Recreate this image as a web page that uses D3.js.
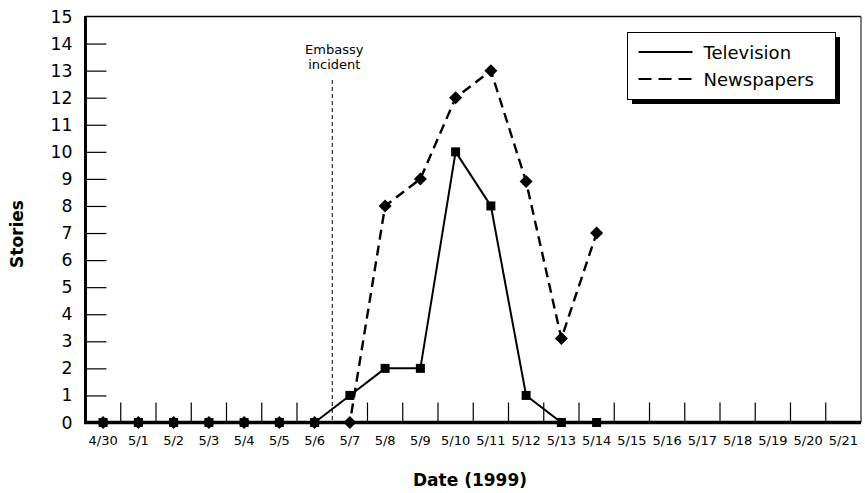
<!DOCTYPE html>
<html>
<head>
<meta charset="utf-8">
<script src="https://cdn.jsdelivr.net/npm/d3@7"></script>
<style>
  html, body { margin: 0; padding: 0; background: #fff; }
  svg { display: block; font-family: "DejaVu Sans", "Open Sans", sans-serif; }
</style>
</head>
<body>
<svg id="chart" width="865" height="493"></svg>
<script>
// ---- data ----
const categories = ["4/30","5/1","5/2","5/3","5/4","5/5","5/6","5/7","5/8","5/9","5/10",
                    "5/11","5/12","5/13","5/14","5/15","5/16","5/17","5/18","5/19","5/20","5/21"];
const televisionDates = ["4/30","5/1","5/2","5/3","5/4","5/5","5/6","5/7","5/8","5/9","5/10","5/11","5/12","5/13","5/14"];
const televisionValues = [0,0,0,0,0,0,0,1,2,2,10,8,1,0,0];
const newspaperDates = ["4/30","5/1","5/2","5/3","5/4","5/5","5/6","5/7","5/8","5/9","5/10","5/11","5/12","5/13","5/14"];
const newspaperValues = [0,0,0,0,0,0,0,0,8,9,12,13,8.9,3.1,7];
const yTickValues = [0,1,2,3,4,5,6,7,8,9,10,11,12,13,14,15];
const eventDate = "5/7";
const eventLabel = ["Embassy", "incident"];
const seriesNames = ["Television", "Newspapers"];

// ---- layout ----
const svg = d3.select("#chart");
const pL = 85.5, pR = 861, pT = 16.5, pB = 422.5;

const x = d3.scaleBand().domain(categories).range([pL, pR]).paddingInner(0).paddingOuter(0);
const xc = d => x(d) + x.bandwidth() / 2;
const y = d3.scaleLinear().domain([0, 15]).range([pB, pT]);

// frame: top and right
svg.append("line").attr("x1", pL).attr("x2", pR).attr("y1", pT).attr("y2", pT)
  .attr("stroke", "#000").attr("stroke-width", 1.3);
svg.append("line").attr("x1", pR).attr("x2", pR).attr("y1", pT).attr("y2", pB)
  .attr("stroke", "#555").attr("stroke-width", 1.5);

// y axis
const yAxis = d3.axisLeft(y).tickValues(yTickValues).tickFormat(d3.format("d"))
  .tickSizeInner(-21).tickSizeOuter(0).tickPadding(13);
const gy = svg.append("g").attr("transform", `translate(${pL},0)`).call(yAxis);
gy.attr("font-family", null);
gy.select(".domain").remove();
gy.selectAll(".tick line").attr("stroke", "#000").attr("stroke-width", 1.2)
  .filter(d => d === 0 || d === 15).remove();
gy.selectAll(".tick text").attr("font-size", 17.3).attr("fill", "#000");

// x axis labels
const xAxis = d3.axisBottom(x).tickSizeInner(0).tickSizeOuter(0).tickPadding(13.5);
const gx = svg.append("g").attr("transform", `translate(0,${pB})`).call(xAxis);
gx.attr("font-family", null);
gx.select(".domain").remove();
gx.selectAll(".tick line").remove();
gx.selectAll(".tick text").attr("font-size", 13).attr("fill", "#000");

// x boundary ticks (between categories)
svg.append("g").selectAll("line")
  .data(categories.slice(1).filter(d => d !== eventDate))
  .join("line")
  .attr("x1", d => x(d)).attr("x2", d => x(d))
  .attr("y1", pB).attr("y2", pB - 20)
  .attr("stroke", "#000").attr("stroke-width", 1.2);

// event line
const ex = x(eventDate);
svg.append("line").attr("x1", ex).attr("x2", ex).attr("y1", 80).attr("y2", pB)
  .attr("stroke", "#000").attr("stroke-width", 1).attr("stroke-dasharray", "4,3");
svg.append("text").attr("x", ex + 2).attr("y", 54).attr("text-anchor", "middle")
  .attr("font-size", 13).selectAll("tspan").data(eventLabel).join("tspan")
  .attr("x", ex + 2).attr("dy", (d, i) => i === 0 ? 0 : 15).text(d => d);

// main axis lines (thick)
svg.append("line").attr("x1", pL).attr("x2", pL).attr("y1", pT - 0.5).attr("y2", pB + 1.5)
  .attr("stroke", "#000").attr("stroke-width", 3);
svg.append("line").attr("x1", pL - 1.5).attr("x2", pR).attr("y1", pB).attr("y2", pB)
  .attr("stroke", "#000").attr("stroke-width", 3.5);

// series
const tv = televisionDates.map((d, i) => ({ date: d, value: televisionValues[i] }));
const np = newspaperDates.map((d, i) => ({ date: d, value: newspaperValues[i] }));
const line = d3.line().x(d => xc(d.date)).y(d => y(d.value));

svg.append("path").datum(np).attr("d", line).attr("fill", "none")
  .attr("stroke", "#000").attr("stroke-width", 2.4).attr("stroke-dasharray", "10,6");
svg.append("path").datum(tv).attr("d", line).attr("fill", "none")
  .attr("stroke", "#000").attr("stroke-width", 2);

const diamond = (cx, cy, r) => `M${cx},${cy - r}L${cx + r},${cy}L${cx},${cy + r}L${cx - r},${cy}Z`;
svg.append("g").selectAll("path").data(np).join("path")
  .attr("d", d => diamond(xc(d.date), y(d.value), 6.5)).attr("fill", "#000");
svg.append("g").selectAll("rect").data(tv).join("rect")
  .attr("x", d => xc(d.date) - 4.5).attr("y", d => y(d.value) - 4.5)
  .attr("width", 9).attr("height", 9).attr("fill", "#000");

// axis titles
svg.append("text").attr("x", 470).attr("y", 486).attr("text-anchor", "middle")
  .attr("font-size", 17).attr("font-weight", "bold").text("Date (1999)");
svg.append("text").attr("transform", "translate(23,234) rotate(-90)").attr("text-anchor", "middle")
  .attr("font-size", 17).attr("font-weight", "bold").text("Stories");

// legend
const lg = svg.append("g");
const lx = 627.5, ly = 32.5, lw = 208, lh = 67;
lg.append("rect").attr("x", lx + 4.5).attr("y", ly + 4.5).attr("width", lw).attr("height", lh).attr("fill", "#000");
lg.append("rect").attr("x", lx).attr("y", ly).attr("width", lw).attr("height", lh)
  .attr("fill", "#fff").attr("stroke", "#000").attr("stroke-width", 1);
const rows = [{ name: seriesNames[0], dash: null, yy: ly + 19.5 }, { name: seriesNames[1], dash: "13,7", yy: ly + 46.5 }];
rows.forEach(r => {
  lg.append("line").attr("x1", lx + 11).attr("x2", lx + 65).attr("y1", r.yy).attr("y2", r.yy)
    .attr("stroke", "#000").attr("stroke-width", 2.2).attr("stroke-dasharray", r.dash);
  lg.append("text").attr("x", lx + 76).attr("y", r.yy + 6.5).attr("font-size", 18).text(r.name);
});
</script>
</body>
</html>
